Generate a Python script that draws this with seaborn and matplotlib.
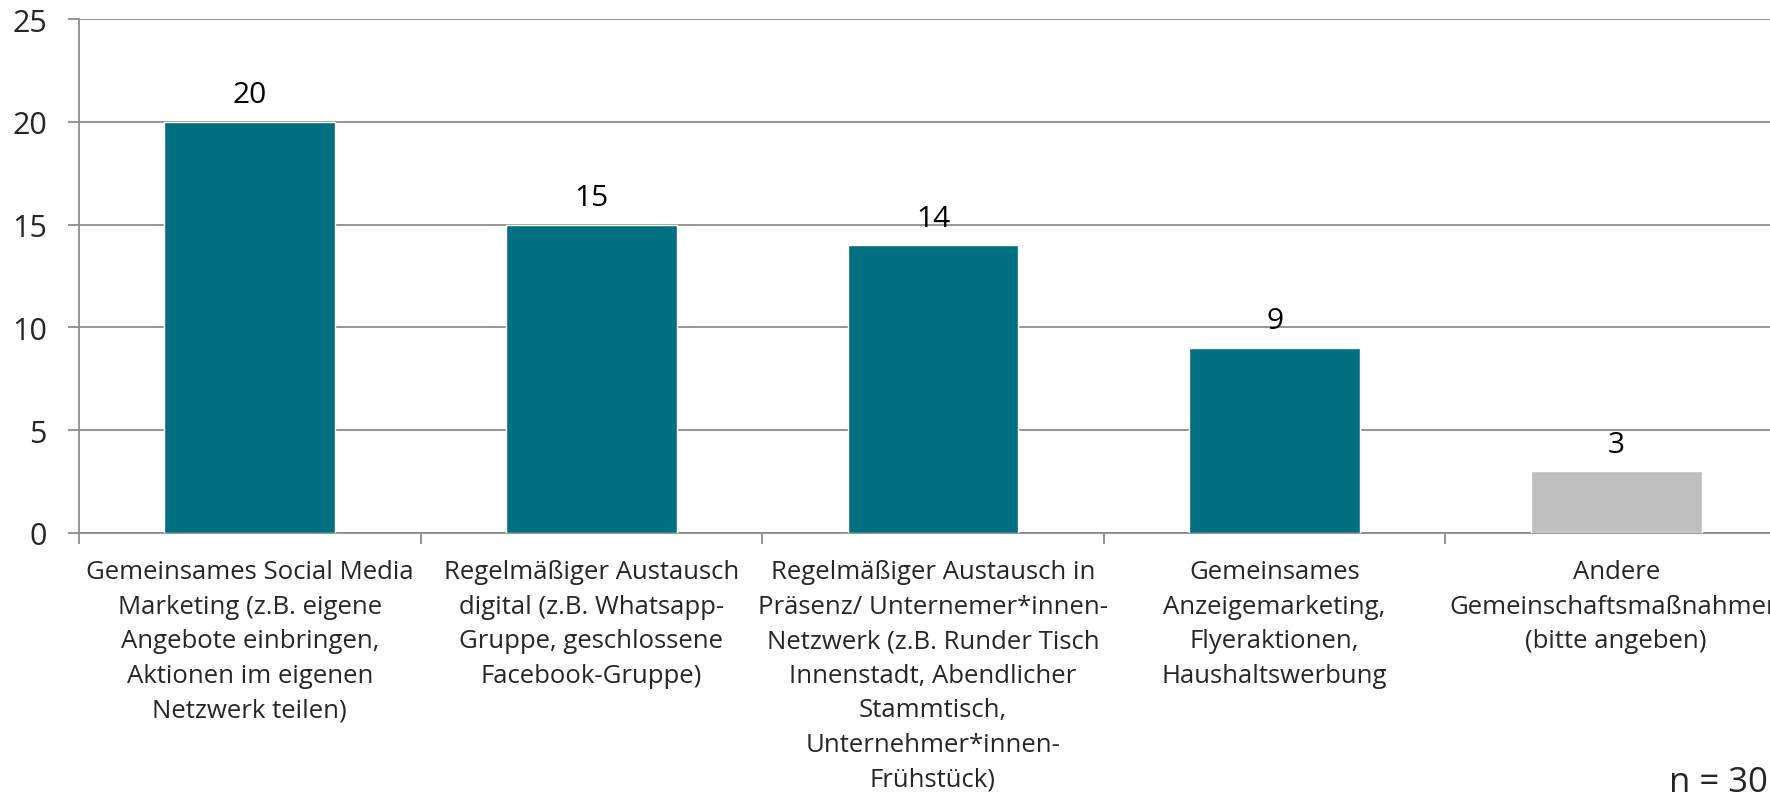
import matplotlib
matplotlib.use("Agg")
import matplotlib.pyplot as plt
import seaborn as sns

# data
categories = [
    "Gemeinsames Social Media\nMarketing (z.B. eigene\nAngebote einbringen,\nAktionen im eigenen\nNetzwerk teilen)",
    "Regelmäßiger Austausch\ndigital (z.B. Whatsapp-\nGruppe, geschlossene\nFacebook-Gruppe)",
    "Regelmäßiger Austausch in\nPräsenz/ Unternemer*innen-\nNetzwerk (z.B. Runder Tisch\nInnenstadt, Abendlicher\nStammtisch,\nUnternehmer*innen-\nFrühstück)",
    "Gemeinsames\nAnzeigemarketing,\nFlyeraktionen,\nHaushaltswerbung",
    "Andere\nGemeinschaftsmaßnahmen\n(bitte angeben)",
]
values = [20, 15, 14, 9, 3]
bar_colors = ["#006F80", "#006F80", "#006F80", "#006F80", "#BFBFBF"]
y_ticks = [0, 5, 10, 15, 20, 25]

sns.set_theme(style="white")
plt.rcParams["font.family"] = ["Open Sans", "DejaVu Sans"]

fig = plt.figure(figsize=(17.7, 8.03), dpi=100)
ax = fig.add_axes([0.0446, 0.335, 0.965, 0.64])

sns.barplot(x=categories, y=values, hue=categories, palette=bar_colors,
            legend=False, width=0.5, saturation=1, ax=ax, zorder=3)

for c in ax.containers:
    ax.bar_label(c, fontsize=21.5, padding=9, color="black")

ax.set_ylim(0, 25)
ax.set_yticks(y_ticks)
ax.set_xlim(-0.5, len(categories) - 0.5)
ax.yaxis.grid(True, color="#8c8c8c", linewidth=1.3, zorder=0)
ax.set_axisbelow(True)

for side in ["top", "right"]:
    ax.spines[side].set_visible(False)
for side in ["left", "bottom"]:
    ax.spines[side].set_color("#8c8c8c")
    ax.spines[side].set_linewidth(1.3)

# category boundaries as tick marks, labels centered on the bars
ax.set_xticks([i - 0.5 for i in range(len(categories) + 1)], minor=False)
ax.set_xticklabels([])
ax.set_xticks(range(len(categories)), minor=True)
ax.set_xticklabels(categories, minor=True, fontsize=18.5, linespacing=1.5,
                   ha="center", va="top")
ax.tick_params(axis="x", which="major", direction="out", length=8, width=1.3,
               color="#8c8c8c", bottom=True)
ax.tick_params(axis="x", which="minor", length=0, pad=19, bottom=True)
ax.tick_params(axis="y", direction="out", length=8, width=1.3,
               color="#8c8c8c", labelsize=22, pad=15, left=True)
ax.set_xlabel("")
ax.set_ylabel("")

fig.text(0.999, 0.004, "n = 30", fontsize=25, ha="right", va="bottom")

fig.savefig("out.png", dpi=100)
